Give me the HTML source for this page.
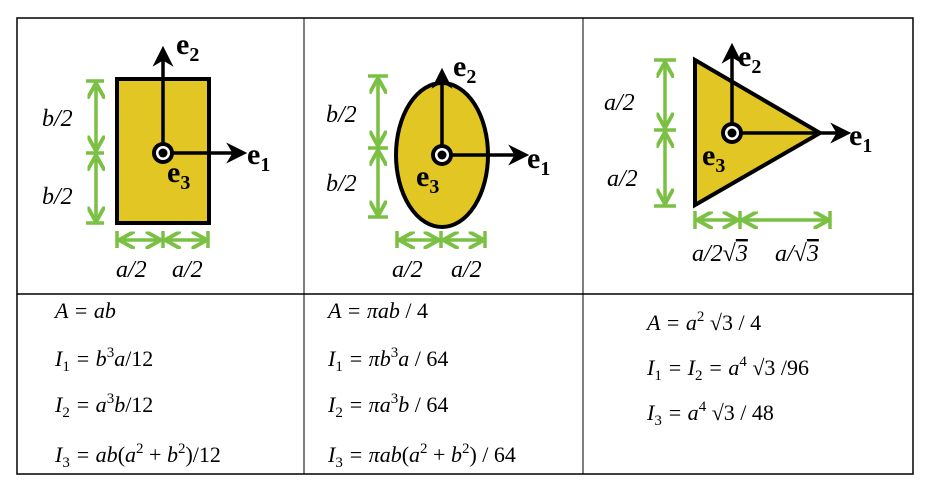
<!DOCTYPE html>
<html><head><meta charset="utf-8"><style>body{margin:0;background:#fff}svg{display:block}</style></head><body>
<svg width="937" height="499" viewBox="0 0 937 499" xmlns="http://www.w3.org/2000/svg">
<defs>
<marker id="ah" viewBox="0 0 10 10" refX="8" refY="5" markerWidth="6" markerHeight="6" orient="auto-start-reverse"><path d="M0,0 L10,5 L0,10 L3,5 z" fill="#000"/></marker>
<marker id="ga" viewBox="0 0 10 10" refX="9" refY="5" markerWidth="5" markerHeight="5" orient="auto-start-reverse"><path d="M0,0 L9,5 L0,10" fill="none" stroke="#7ac143" stroke-width="2.2"/></marker>
</defs>
<rect x="17" y="18" width="896" height="456" fill="none" stroke="#000" stroke-width="1.5"/>
<line x1="304" y1="18" x2="304" y2="474" stroke="#000" stroke-width="1"/>
<line x1="583" y1="18" x2="583" y2="474" stroke="#000" stroke-width="1"/>
<line x1="17" y1="294" x2="913" y2="294" stroke="#000" stroke-width="1.5"/>

<g stroke="#7ac143" stroke-width="3.5" fill="none">
<line x1="96" y1="83" x2="96" y2="151" marker-start="url(#ga)" marker-end="url(#ga)"/>
<line x1="96" y1="155" x2="96" y2="222" marker-start="url(#ga)" marker-end="url(#ga)"/>
<line x1="86" y1="81" x2="104" y2="81"/><line x1="86" y1="153" x2="104" y2="153"/><line x1="86" y1="223" x2="104" y2="223"/>
<line x1="119" y1="240" x2="161" y2="240" marker-start="url(#ga)" marker-end="url(#ga)"/>
<line x1="165" y1="240" x2="207" y2="240" marker-start="url(#ga)" marker-end="url(#ga)"/>
<line x1="117" y1="231" x2="117" y2="248"/><line x1="163" y1="231" x2="163" y2="248"/><line x1="208" y1="231" x2="208" y2="248"/>

<line x1="378" y1="78" x2="378" y2="146" marker-start="url(#ga)" marker-end="url(#ga)"/>
<line x1="378" y1="150" x2="378" y2="216" marker-start="url(#ga)" marker-end="url(#ga)"/>
<line x1="368" y1="76" x2="388" y2="76"/><line x1="368" y1="148" x2="388" y2="148"/><line x1="368" y1="217" x2="388" y2="217"/>
<line x1="399" y1="240" x2="439" y2="240" marker-start="url(#ga)" marker-end="url(#ga)"/>
<line x1="443" y1="240" x2="484" y2="240" marker-start="url(#ga)" marker-end="url(#ga)"/>
<line x1="397" y1="231" x2="397" y2="248"/><line x1="441" y1="231" x2="441" y2="248"/><line x1="485" y1="231" x2="485" y2="248"/>

<line x1="665" y1="62" x2="665" y2="128" marker-start="url(#ga)" marker-end="url(#ga)"/>
<line x1="665" y1="132" x2="665" y2="204" marker-start="url(#ga)" marker-end="url(#ga)"/>
<line x1="654" y1="60" x2="676" y2="60"/><line x1="654" y1="130" x2="676" y2="130"/><line x1="654" y1="206" x2="676" y2="206"/>
<line x1="697" y1="220" x2="738" y2="220" marker-start="url(#ga)" marker-end="url(#ga)"/>
<line x1="742" y1="220" x2="829" y2="220" marker-start="url(#ga)" marker-end="url(#ga)"/>
<line x1="695" y1="211" x2="695" y2="229"/><line x1="740" y1="211" x2="740" y2="229"/><line x1="830" y1="211" x2="830" y2="229"/>
</g>

<rect x="117" y="79" width="92" height="144" fill="#e2c624" stroke="#000" stroke-width="4"/>
<ellipse cx="442" cy="155" rx="46" ry="72" fill="#e2c624" stroke="#000" stroke-width="4"/>
<polygon points="695,60 695,205 820,133" fill="#e2c624" stroke="#000" stroke-width="4" stroke-linejoin="miter"/>

<g stroke="#000" stroke-width="3.5" fill="none">
<line x1="163" y1="153" x2="163" y2="50" marker-end="url(#ah)"/>
<line x1="163" y1="153" x2="243" y2="153" marker-end="url(#ah)"/>
<line x1="442" y1="155" x2="442" y2="72" marker-end="url(#ah)"/>
<line x1="442" y1="155" x2="525" y2="155" marker-end="url(#ah)"/>
<line x1="732" y1="133" x2="732" y2="47" marker-end="url(#ah)"/>
<line x1="732" y1="133" x2="847" y2="133" marker-end="url(#ah)"/>
</g>
<g>
<circle cx="163" cy="153" r="11" fill="#000"/><circle cx="163" cy="153" r="7" fill="#fff"/><circle cx="163" cy="153" r="4.5" fill="#000"/>
<circle cx="442" cy="155" r="11" fill="#000"/><circle cx="442" cy="155" r="7" fill="#fff"/><circle cx="442" cy="155" r="4.5" fill="#000"/>
<circle cx="732" cy="133" r="11" fill="#000"/><circle cx="732" cy="133" r="7" fill="#fff"/><circle cx="732" cy="133" r="4.5" fill="#000"/>
</g>

<g font-family="Liberation Serif, serif" font-weight="bold" font-size="30">
<text x="176" y="54">e<tspan font-size="20" dy="7">2</tspan></text>
<text x="247" y="164">e<tspan font-size="20" dy="7">1</tspan></text>
<text x="167" y="182">e<tspan font-size="20" dy="7">3</tspan></text>
<text x="453" y="76">e<tspan font-size="20" dy="7">2</tspan></text>
<text x="527" y="168">e<tspan font-size="20" dy="7">1</tspan></text>
<text x="416" y="186">e<tspan font-size="20" dy="7">3</tspan></text>
<text x="738" y="66">e<tspan font-size="20" dy="7">2</tspan></text>
<text x="849" y="145">e<tspan font-size="20" dy="7">1</tspan></text>
<text x="702" y="165">e<tspan font-size="20" dy="7">3</tspan></text>
</g>
<g font-family="Liberation Serif, serif" font-style="italic" font-size="24">
<text x="42" y="126">b/2</text><text x="42" y="204">b/2</text>
<text x="116" y="277">a/2</text><text x="172" y="277">a/2</text>
<text x="326" y="122">b/2</text><text x="326" y="191">b/2</text>
<text x="392" y="277">a/2</text><text x="451" y="277">a/2</text>
<text x="604" y="110">a/2</text><text x="607" y="186">a/2</text>
<text x="692" y="261">a/2<tspan font-style="normal">√</tspan><tspan text-decoration="overline">3</tspan></text>
<text x="775" y="261">a/<tspan font-style="normal">√</tspan><tspan text-decoration="overline">3</tspan></text>
</g>

<g font-family="Liberation Serif, serif" font-style="italic" font-size="22">
<text x="55" y="318">A = ab</text>
<text x="55" y="366">I<tspan font-size="15" dy="5" font-style="normal">1</tspan><tspan dy="-5"> = b</tspan><tspan font-size="15" dy="-9" font-style="normal">3</tspan><tspan dy="9">a</tspan><tspan font-style="normal">/12</tspan></text>
<text x="55" y="412">I<tspan font-size="15" dy="5" font-style="normal">2</tspan><tspan dy="-5"> = a</tspan><tspan font-size="15" dy="-9" font-style="normal">3</tspan><tspan dy="9">b</tspan><tspan font-style="normal">/12</tspan></text>
<text x="55" y="462">I<tspan font-size="15" dy="5" font-style="normal">3</tspan><tspan dy="-5"> = ab</tspan><tspan font-style="normal">(</tspan>a<tspan font-size="15" dy="-9" font-style="normal">2</tspan><tspan dy="9" font-style="normal"> + </tspan>b<tspan font-size="15" dy="-9" font-style="normal">2</tspan><tspan dy="9" font-style="normal">)/12</tspan></text>

<text x="328" y="318">A = πab <tspan font-style="normal">/ 4</tspan></text>
<text x="328" y="366">I<tspan font-size="15" dy="5" font-style="normal">1</tspan><tspan dy="-5"> = πb</tspan><tspan font-size="15" dy="-9" font-style="normal">3</tspan><tspan dy="9">a</tspan><tspan font-style="normal"> / 64</tspan></text>
<text x="328" y="412">I<tspan font-size="15" dy="5" font-style="normal">2</tspan><tspan dy="-5"> = πa</tspan><tspan font-size="15" dy="-9" font-style="normal">3</tspan><tspan dy="9">b</tspan><tspan font-style="normal"> / 64</tspan></text>
<text x="328" y="462">I<tspan font-size="15" dy="5" font-style="normal">3</tspan><tspan dy="-5"> = πab</tspan><tspan font-style="normal">(</tspan>a<tspan font-size="15" dy="-9" font-style="normal">2</tspan><tspan dy="9" font-style="normal"> + </tspan>b<tspan font-size="15" dy="-9" font-style="normal">2</tspan><tspan dy="9" font-style="normal">) / 64</tspan></text>

<text x="647" y="330">A = a<tspan font-size="15" dy="-9" font-style="normal">2</tspan><tspan dy="9" font-style="normal"> √3 / 4</tspan></text>
<text x="647" y="375">I<tspan font-size="15" dy="5" font-style="normal">1</tspan><tspan dy="-5"> = I</tspan><tspan font-size="15" dy="5" font-style="normal">2</tspan><tspan dy="-5"> = a</tspan><tspan font-size="15" dy="-9" font-style="normal">4</tspan><tspan dy="9" font-style="normal"> √3 /96</tspan></text>
<text x="647" y="420">I<tspan font-size="15" dy="5" font-style="normal">3</tspan><tspan dy="-5"> = a</tspan><tspan font-size="15" dy="-9" font-style="normal">4</tspan><tspan dy="9" font-style="normal"> √3 / 48</tspan></text>
</g>
</svg>
</body></html>
